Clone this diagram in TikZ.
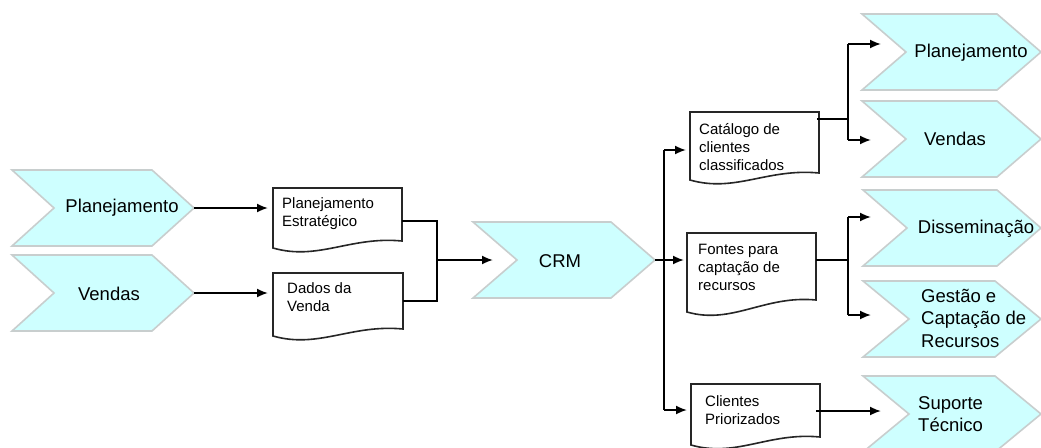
\documentclass[tikz,border=0pt]{standalone}
\usepackage{fontspec}
\setmainfont{Liberation Sans}
\usetikzlibrary{arrows.meta}
\definecolor{chevfill}{RGB}{206,255,255}
\definecolor{chevline}{RGB}{200,206,206}
\tikzset{
  chevstyle/.style={fill=chevfill, draw=chevline, line width=1.6pt, line join=miter},
  docstyle/.style={fill=white, draw=black!85, line width=1.6pt},
  conn/.style={draw=black, line width=1.8pt},
  arr/.style={conn, -{Latex[length=11pt,width=9pt]}},
  bigtext/.style={font=\fontsize{18.5}{22.5}\selectfont, inner sep=0pt, align=left},
  doctext/.style={font=\fontsize{15}{18}\selectfont, inner sep=0pt, align=left, anchor=west},
}
% name, left x, top y, tip x, depth
\newcommand\chevshape[5]{%
  \path[chevstyle] (#2,#3) -- (#4-#5,#3) -- (#4,#3+38) -- (#4-#5,#3+76) -- (#2,#3+76) -- (#2+#5,#3+38) -- cycle;
  \coordinate (#1-w) at (#2+#5,#3+38);
  \coordinate (#1-e) at (#4,#3+38);}
% name, left x, top y, right x, bottom-left y, bottom-right y
\newcommand\docshape[6]{%
  \pgfmathsetmacro\cax{#2+0.35*(#4-#2)}\pgfmathsetmacro\cay{#5+13}%
  \pgfmathsetmacro\cbx{#2+0.6*(#4-#2)}\pgfmathsetmacro\cby{#6-5}%
  \draw[docstyle] (#2,#5) -- (#2,#3) -- (#4,#3) -- (#4,#6) .. controls (\cbx,\cby) and (\cax,\cay) .. (#2,#5) -- cycle;}
\begin{document}
\begin{tikzpicture}[x=1pt,y=-1pt]
\useasboundingbox (0,0) rectangle (1041,447);
\clip (0,0) rectangle (1041,447);
\fill[white] (0,0) rectangle (1041,447);

% chevrons
\chevshape{cpl}{12}{170}{194}{42}
\chevshape{cve}{12}{255}{194}{42}
\chevshape{ccrm}{473}{222}{655}{44}
\chevshape{rpl}{862}{14}{1041}{44}
\chevshape{rve}{862}{101}{1041}{44}
\chevshape{rdi}{863}{190}{1041}{44}
\chevshape{rge}{863}{281}{1041}{46}
\chevshape{rsu}{863}{376}{1041}{46}

\node[bigtext] (tpl) at (122,208) {Planejamento};
\node[bigtext] (tve) at (109,294) {Vendas};
\node[bigtext] (tcrm) at (560,261) {CRM};
\node[bigtext] (trpl) at (971,53) {Planejamento};
\node[bigtext] (trve) at (955,139) {Vendas};
\node[bigtext] (trdi) at (976,229) {Disseminação};
\node[bigtext, anchor=west] (trge) at (921,318) {Gestão e\\Captação de\\Recursos};
\node[bigtext, anchor=west] (trsu) at (918,414) {Suporte\\Técnico};

% documents
\docshape{d1}{273}{188}{402}{248}{241}
\docshape{d2}{273}{273}{403}{336}{329}
\docshape{d3}{690}{112}{819}{180}{173}
\docshape{d4}{687}{233}{816}{312}{300}
\docshape{d5}{691}{384}{820}{445}{437}

\node[doctext] (td1) at (282,214) {Planejamento\\Estratégico};
\node[doctext] (td2) at (287,297) {Dados da\\Venda};
\node[doctext] (td3) at (699,147) {Catálogo de\\clientes\\classificados};
\node[doctext] (td4) at (698,267) {Fontes para\\captação de\\recursos};
\node[doctext] (td5) at (705,410) {Clientes\\Priorizados};

% connector points
\coordinate (d1in) at (268,208);
\coordinate (d2in) at (268,293);
\coordinate (d1out) at (402,221);
\coordinate (d2out) at (403,301);
\coordinate (j1t) at (437,221);
\coordinate (j1b) at (437,301);
\coordinate (j1m) at (437,260);
\coordinate (crmin) at (493,260);
\coordinate (j2m) at (664,260);
\coordinate (j2t) at (664,150);
\coordinate (j2b) at (664,410);
\coordinate (d3in) at (686,150);
\coordinate (d4in) at (684,260);
\coordinate (d5in) at (687,410);
\coordinate (d3out) at (817,119);
\coordinate (j3m) at (848,119);
\coordinate (j3t) at (848,44);
\coordinate (j3b) at (848,140);
\coordinate (rplin) at (881,44);
\coordinate (rvein) at (871,140);
\coordinate (d4out) at (816,260);
\coordinate (j4m) at (848,260);
\coordinate (j4t) at (848,217);
\coordinate (j4b) at (848,315);
\coordinate (rdiin) at (871,217);
\coordinate (rgein) at (871,315);
\coordinate (d5out) at (816,411);
\coordinate (rsuin) at (881,411);

% connectors
\draw[arr] (cpl-e) -- (d1in);
\draw[arr] (cve-e) -- (d2in);
\draw[conn] (d1out) -- (j1t) -- (j1b) -- (d2out);
\draw[arr] (j1m) -- (crmin);
\draw[conn] (ccrm-e) -- (j2m);
\draw[conn] (j2t) -- (j2b);
\draw[arr] (j2t) -- (d3in);
\draw[arr] (j2m) -- (d4in);
\draw[arr] (j2b) -- (d5in);
\draw[conn] (d3out) -- (j3m);
\draw[conn] (j3t) -- (j3b);
\draw[arr] (j3t) -- (rplin);
\draw[arr] (j3b) -- (rvein);
\draw[conn] (d4out) -- (j4m);
\draw[conn] (j4t) -- (j4b);
\draw[arr] (j4t) -- (rdiin);
\draw[arr] (j4b) -- (rgein);
\draw[arr] (d5out) -- (rsuin);
\end{tikzpicture}
\end{document}
